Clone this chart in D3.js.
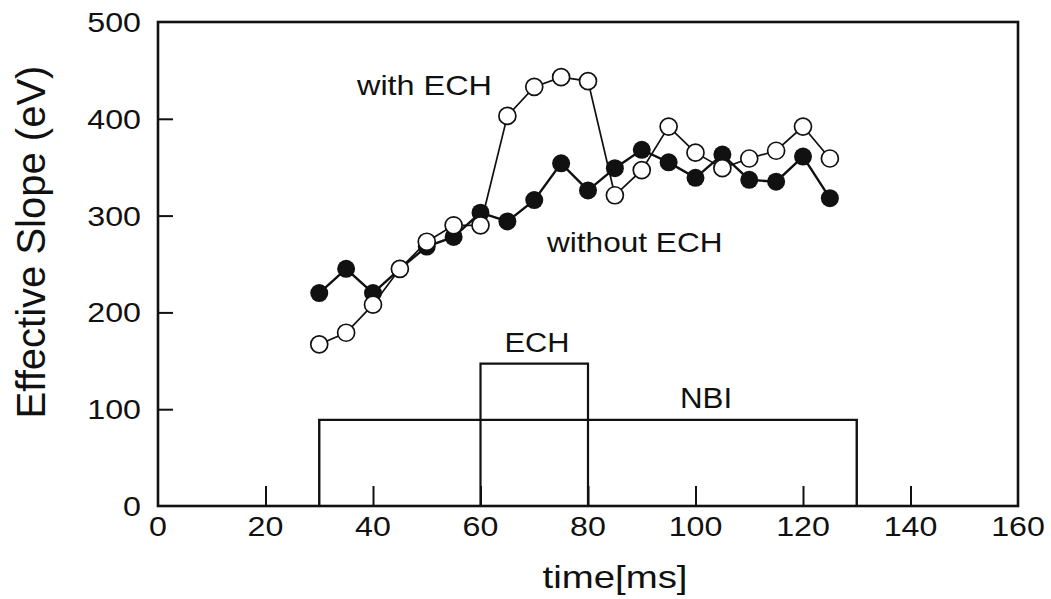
<!DOCTYPE html>
<html>
<head>
<meta charset="utf-8">
<script src="https://cdn.jsdelivr.net/npm/d3@7"></script>
<style>
  html, body { margin: 0; padding: 0; background: #fff; }
  svg text { font-family: "Liberation Sans", Arial, Helvetica, sans-serif; fill: #111; }
</style>
</head>
<body>
<svg id="chart" width="1051" height="599"></svg>
<script>
// ---- data ----
const times = [30,35,40,45,50,55,60,65,70,75,80,85,90,95,100,105,110,115,120,125];
const withoutECH = [220,245,220,245,268,278,303,294,316,354,326,349,368,355,339,363,337,335,361,318];
const withECH    = [167,179,208,245,273,290,290,403,433,443,439,321,347,392,365,349,359,367,392,359];
const xTicks = [0,20,40,60,80,100,120,140,160];
const yTicks = [0,100,200,300,400,500];
const echPulse = [60, 80, 147];   // start, end, level
const nbiPulse = [30, 130, 89];
const xLabel = "time[ms]";
const yLabel = "Effective Slope (eV)";

// ---- layout ----
const svg = d3.select("#chart");
const L = 158, R = 1018, T = 22, B = 506;
const x = d3.scaleLinear().domain([0,160]).range([L,R]);
const y = d3.scaleLinear().domain([0,500]).range([B,T]);
const SX = 1.15; // horizontal stretch of the scanned lettering

function label(px, py, txt, size, anchor, sx){
  const g = svg.append("g").attr("transform",`translate(${px},${py}) scale(${sx||SX},1)`);
  g.append("text").attr("x",0).attr("y",0).attr("text-anchor",anchor||"start")
    .attr("font-size",size).text(txt);
  return g;
}

// frame
svg.append("rect").attr("x",L).attr("y",T).attr("width",R-L).attr("height",B-T)
  .attr("fill","none").attr("stroke","#111").attr("stroke-width",2.6);

// axes (inner ticks)
const xAxis = d3.axisBottom(x).tickValues(xTicks).tickSize(-20).tickFormat(() => "");
const gx = svg.append("g").attr("transform",`translate(0,${B})`).call(xAxis);
gx.select(".domain").remove();
gx.selectAll(".tick line").attr("stroke","#111").attr("stroke-width",2);
gx.selectAll(".tick").filter(d => d===0 || d===160).select("line").remove();
xTicks.forEach(v => label(x(v), B + 30, d3.format("d")(v), 28, "middle"));

const yAxis = d3.axisLeft(y).tickValues(yTicks).tickSize(-15).tickFormat(() => "");
const gy = svg.append("g").attr("transform",`translate(${L},0)`).call(yAxis);
gy.select(".domain").remove();
gy.selectAll(".tick line").attr("stroke","#111").attr("stroke-width",2);
gy.selectAll(".tick").filter(d => d===0 || d===500).select("line").remove();
yTicks.forEach(v => label(L - 17, y(v) + 10, d3.format("d")(v), 28, "end"));

// axis labels
label(615, 588, xLabel, 32, "middle", 1.2);
svg.append("text").attr("transform",`translate(45,242) rotate(-90)`)
  .attr("text-anchor","middle").attr("font-size",40).text(yLabel);

// pulses
function pulse(p){
  const [s,e,h] = p;
  return d3.line()([[x(s),y(0)],[x(s),y(h)],[x(e),y(h)],[x(e),y(0)]]);
}
svg.append("path").attr("d",pulse(nbiPulse)).attr("fill","none").attr("stroke","#111").attr("stroke-width",2.4);
svg.append("path").attr("d",pulse(echPulse)).attr("fill","none").attr("stroke","#111").attr("stroke-width",2.2);

// series
const line = d3.line().x(d => x(d[0])).y(d => y(d[1]));
const sWithout = times.map((t,i) => [t, withoutECH[i]]);
const sWith = times.map((t,i) => [t, withECH[i]]);

svg.append("path").attr("d",line(sWithout)).attr("fill","none").attr("stroke","#111").attr("stroke-width",2.4);
svg.append("path").attr("d",line(sWith)).attr("fill","none").attr("stroke","#111").attr("stroke-width",1.7);

svg.append("g").selectAll("circle").data(sWithout).join("circle")
  .attr("cx",d=>x(d[0])).attr("cy",d=>y(d[1])).attr("r",9).attr("fill","#111");
svg.append("g").selectAll("circle").data(sWith).join("circle")
  .attr("cx",d=>x(d[0])).attr("cy",d=>y(d[1])).attr("r",8.5).attr("fill","#fff")
  .attr("stroke","#111").attr("stroke-width",1.7);

// annotations
label(357, 95, "with ECH", 27, "start", 1.2);
label(547, 252, "without ECH", 27, "start", 1.17);
label(537, 352, "ECH", 28, "middle", 1.1);
label(706, 408, "NBI", 29, "middle", 1.08);
</script>
</body>
</html>
